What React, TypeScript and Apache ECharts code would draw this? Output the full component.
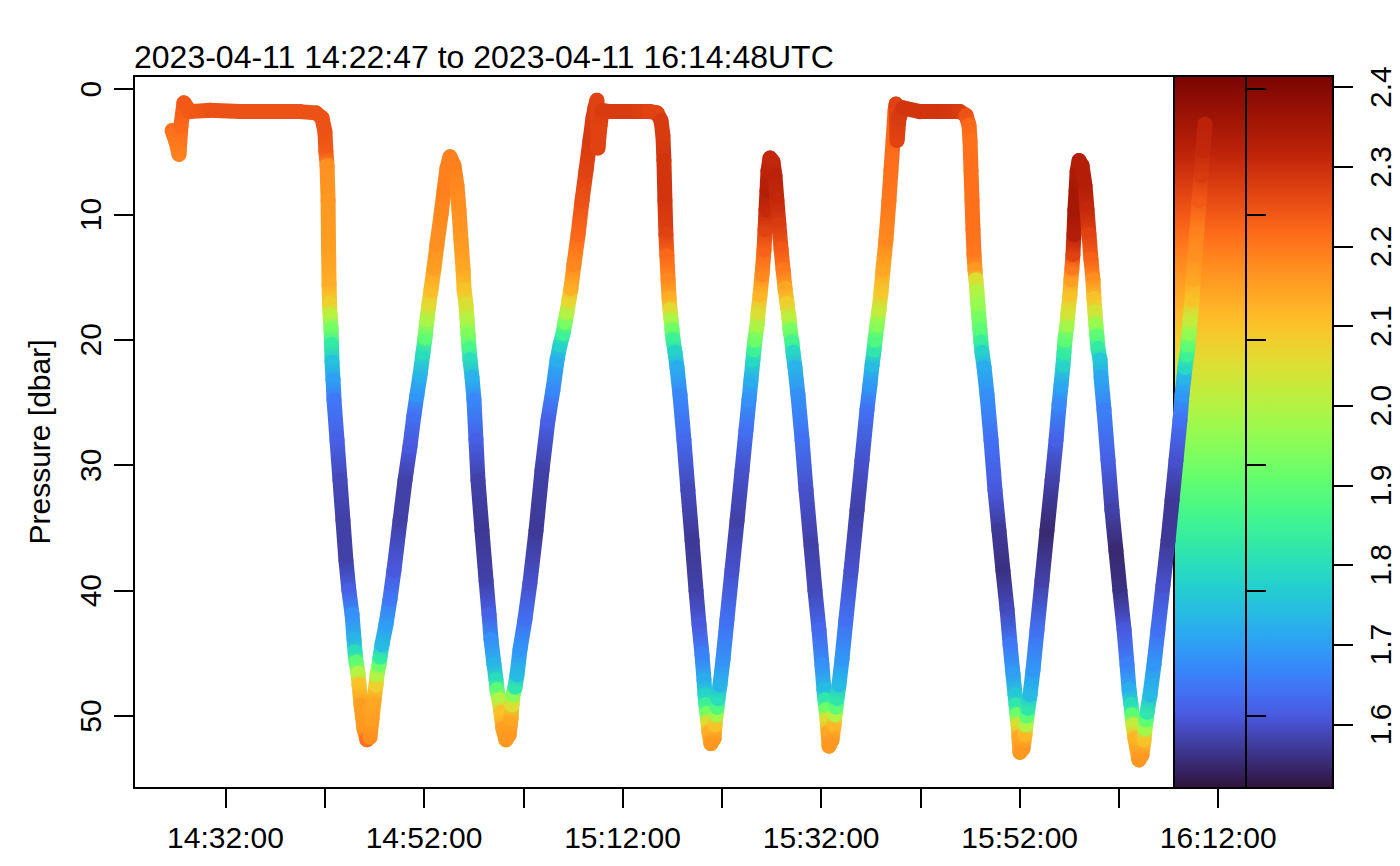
import React, { useEffect, useRef } from "react";
import * as echarts from "echarts";

const TITLE = "2023-04-11 14:22:47 to 2023-04-11 16:14:48UTC";
const START_TIME = "14:22:47";
const END_TIME = "16:14:48";
const Y_AXIS_NAME = "Pressure [dbar]";

// seconds after START_TIME, one line per leg of the profile
const elapsedSec = [
  230, 254, 272, 284, 302, 338, 459, 641, 822, 1003, 1100, 1136, 1154, 1160,
  1167, 1173, 1176, 1179, 1182, 1185, 1191, 1194, 1197, 1203, 1209, 1227, 1245, 1263, 1281, 1299, 1318, 1330, 1336, 1342, 1354, 1360, 1372, 1390, 1408,
  1426, 1438, 1451, 1463, 1469, 1481, 1487, 1499, 1523, 1547, 1571, 1608, 1638, 1668, 1692, 1710, 1729, 1747, 1759, 1771, 1783, 1795, 1813, 1831, 1856, 1874, 1892, 1910,
  1934, 1952, 1964, 1976, 1989, 1995, 2007, 2013, 2019, 2025, 2031, 2043, 2055, 2067, 2079, 2103, 2128, 2146, 2158, 2176, 2188, 2194, 2206, 2218, 2230, 2248,
  2267, 2279, 2285, 2291, 2303, 2315, 2333, 2363, 2393, 2430, 2466, 2502, 2532, 2557, 2575, 2593, 2605, 2617, 2629, 2641, 2659, 2684, 2708, 2732, 2756, 2774, 2786,
  2798, 2804, 2817, 2829, 2877, 2998, 3119, 3161, 3185, 3197,
  3203, 3209, 3215, 3221, 3228, 3234, 3240, 3246, 3252, 3258, 3270, 3282, 3300, 3324, 3348, 3373, 3397, 3415, 3433, 3445, 3451, 3457, 3463, 3469, 3475, 3487,
  3506, 3512, 3518, 3524, 3530, 3542, 3560, 3584, 3614, 3645, 3675, 3699, 3717, 3729, 3741, 3747, 3753, 3766, 3772, 3784, 3796, 3808, 3814, 3820, 3826, 3832, 3844,
  3862, 3874, 3886, 3898, 3911, 3923, 3935, 3947, 3959, 3965, 3977, 3983, 3995, 4013, 4038, 4062, 4092, 4116, 4140, 4158, 4170, 4176, 4183, 4189, 4195, 4201,
  4219, 4231, 4237, 4243, 4249, 4261, 4279, 4303, 4334, 4370, 4400, 4430, 4448, 4461, 4473, 4479, 4491, 4503, 4515, 4527, 4545, 4563, 4575, 4588, 4600,
  4606, 4612, 4624, 4648, 4751, 4872, 4992, 5029, 5047,
  5053, 5059, 5065, 5071, 5077, 5083, 5089, 5095, 5101, 5107, 5113, 5119, 5125, 5138, 5156, 5180, 5204, 5228, 5252, 5277, 5295, 5313, 5325, 5331, 5337, 5343, 5349, 5355,
  5373, 5385, 5391, 5397, 5403, 5416, 5434, 5458, 5488, 5518, 5549, 5573, 5591, 5603, 5615, 5621, 5627, 5639, 5645, 5657, 5663, 5669, 5675, 5681, 5687, 5694, 5700, 5712,
  5730, 5748, 5760, 5772, 5784, 5796, 5802, 5808, 5814, 5820, 5826, 5839, 5845, 5863, 5887, 5911, 5935, 5959, 5984, 6002, 6014, 6026, 6032, 6038, 6050, 6074,
  6092, 6105, 6111, 6117, 6123, 6141, 6165, 6189, 6219, 6250, 6274, 6298, 6322, 6334, 6346, 6352, 6364, 6370, 6377, 6383, 6395, 6401, 6413, 6425, 6437, 6449, 6461, 6473,
];

// pressure [dbar]
const pressure = [
  3.3, 4.2, 5.2, 2.9, 1.1, 1.8, 1.7, 1.8, 1.8, 1.8, 1.9, 2.3, 3.4, 5.0,
  6.1, 8.9, 12.8, 15.6, 17.1, 18.0, 19.1, 20.4, 21.8, 23.2, 24.8, 28.0, 31.2, 34.4, 37.6, 40.0, 41.9, 43.9, 44.9, 45.7, 46.6, 47.5, 49.1, 51.0, 51.9,
  51.7, 50.3, 48.7, 47.5, 46.7, 45.9, 45.3, 44.3, 42.7, 40.7, 38.4, 34.4, 31.2, 28.5, 26.0, 24.4, 22.8, 21.0, 19.8, 18.4, 17.1, 16.0, 14.3, 12.4, 10.0, 8.1, 6.3, 5.4,
  6.1, 7.7, 9.6, 12.0, 14.4, 16.0, 17.2, 18.4, 19.6, 20.7, 21.6, 23.0, 24.8, 28.0, 31.2, 35.2, 39.2, 41.9, 43.9, 45.9, 47.1, 47.9, 48.7, 49.7, 51.0, 51.9,
  51.5, 50.2, 49.1, 48.3, 47.7, 46.7, 44.7, 42.3, 39.4, 35.2, 30.4, 26.4, 24.0, 21.6, 20.4, 19.5, 18.6, 17.8, 16.8, 15.9, 14.0, 11.6, 8.9, 6.5, 4.1, 2.3, 1.5,
  0.9, 4.7, 2.9, 1.7, 1.8, 1.8, 1.8, 1.9, 2.5, 3.7,
  5.7, 8.9, 11.6, 13.3, 15.2, 16.7, 17.6, 18.4, 19.2, 20.0, 21.0, 22.2, 24.4, 28.0, 32.0, 36.0, 40.0, 42.7, 45.1, 47.1, 48.3, 49.1, 49.8, 50.5, 51.3, 52.2,
  51.8, 50.7, 49.9, 49.3, 48.6, 47.5, 45.5, 42.3, 38.4, 34.4, 30.4, 27.2, 24.8, 23.2, 21.6, 20.8, 20.0, 18.8, 17.8, 16.4, 14.8, 12.8, 11.2, 9.6, 8.1, 6.5, 5.5,
  5.8, 6.9, 8.9, 10.8, 12.8, 14.4, 15.9, 17.1, 18.3, 19.2, 20.2, 21.0, 22.2, 24.4, 28.0, 32.0, 36.4, 40.0, 43.1, 45.9, 47.9, 48.7, 49.5, 50.3, 51.3, 52.4,
  51.9, 50.7, 49.9, 49.3, 48.6, 47.5, 45.5, 42.3, 38.4, 33.6, 29.6, 25.6, 23.6, 22.0, 20.8, 20.0, 18.8, 17.6, 16.2, 14.4, 12.0, 8.9, 6.5, 4.1, 1.7,
  1.2, 4.1, 2.3, 1.5, 1.8, 1.8, 1.8, 2.1, 2.9,
  4.1, 6.5, 8.9, 11.2, 13.2, 14.4, 15.2, 16.2, 17.2, 18.3, 19.2, 20.2, 21.0, 22.2, 24.4, 28.0, 32.0, 35.2, 38.4, 41.5, 44.3, 46.7, 48.3, 49.1, 49.9, 50.7, 51.7, 52.9,
  52.6, 51.5, 50.7, 50.0, 49.4, 48.3, 46.3, 43.1, 39.2, 35.2, 31.2, 28.0, 25.2, 23.6, 22.0, 21.0, 20.0, 18.8, 17.8, 16.4, 15.2, 14.3, 13.2, 11.6, 9.6, 8.1, 6.6, 5.7,
  6.1, 7.7, 9.6, 11.6, 13.6, 15.2, 16.7, 17.8, 18.8, 19.7, 20.7, 21.6, 23.0, 25.6, 29.6, 33.6, 36.8, 40.0, 43.1, 45.9, 47.9, 49.1, 49.9, 50.7, 51.8, 53.5,
  53.1, 51.9, 51.0, 50.3, 49.7, 48.3, 45.9, 43.1, 39.6, 36.0, 32.8, 29.6, 26.4, 24.4, 23.0, 22.2, 21.2, 20.4, 19.5, 18.4, 16.8, 15.2, 13.2, 11.2, 8.9, 6.9, 4.9, 2.8,
];

// colour-coded variable
const value = [
  2.21, 2.20, 2.19, 2.22, 2.24, 2.24, 2.25, 2.25, 2.25, 2.25, 2.25, 2.25, 2.25, 2.24,
  2.17, 2.16, 2.15, 2.13, 2.08, 2.01, 1.93, 1.83, 1.75, 1.70, 1.65, 1.62, 1.59, 1.58, 1.58, 1.62, 1.68, 1.73, 1.80, 1.90, 2.00, 2.10, 2.15, 2.16, 2.21,
  2.17, 2.15, 2.14, 2.08, 2.00, 1.92, 1.83, 1.74, 1.70, 1.65, 1.61, 1.58, 1.58, 1.61, 1.64, 1.69, 1.73, 1.80, 1.90, 1.99, 2.06, 2.11, 2.15, 2.17, 2.18, 2.19, 2.19, 2.19,
  2.19, 2.18, 2.17, 2.16, 2.14, 2.10, 2.05, 2.00, 1.94, 1.87, 1.80, 1.73, 1.67, 1.62, 1.58, 1.57, 1.58, 1.62, 1.68, 1.73, 1.80, 1.90, 2.00, 2.10, 2.15, 2.16,
  2.16, 2.14, 2.05, 1.95, 1.82, 1.74, 1.69, 1.64, 1.60, 1.57, 1.58, 1.62, 1.67, 1.72, 1.78, 1.85, 1.93, 2.00, 2.07, 2.13, 2.18, 2.22, 2.25, 2.27, 2.28, 2.28, 2.28,
  2.27, 2.27, 2.27, 2.28, 2.28, 2.28, 2.27, 2.27, 2.28, 2.28,
  2.29, 2.29, 2.27, 2.22, 2.18, 2.13, 2.06, 1.99, 1.92, 1.85, 1.78, 1.72, 1.67, 1.63, 1.59, 1.57, 1.58, 1.61, 1.66, 1.72, 1.78, 1.85, 1.93, 2.05, 2.13, 2.16,
  2.16, 2.10, 1.98, 1.88, 1.80, 1.73, 1.68, 1.64, 1.60, 1.58, 1.60, 1.64, 1.68, 1.72, 1.79, 1.85, 1.92, 1.99, 2.05, 2.12, 2.18, 2.23, 2.27, 2.31, 2.33, 2.32, 2.31,
  2.31, 2.32, 2.31, 2.28, 2.24, 2.20, 2.14, 2.08, 2.01, 1.93, 1.86, 1.79, 1.73, 1.68, 1.64, 1.60, 1.58, 1.59, 1.63, 1.68, 1.74, 1.82, 1.92, 2.05, 2.14, 2.16,
  2.16, 2.12, 2.00, 1.90, 1.82, 1.74, 1.69, 1.64, 1.60, 1.58, 1.60, 1.64, 1.69, 1.74, 1.82, 1.88, 1.95, 2.02, 2.09, 2.14, 2.18, 2.20, 2.21, 2.22, 2.23,
  2.27, 2.27, 2.28, 2.29, 2.29, 2.29, 2.28, 2.25, 2.22,
  2.21, 2.21, 2.21, 2.21, 2.20, 2.16, 2.05, 2.00, 1.97, 1.93, 1.90, 1.84, 1.78, 1.72, 1.68, 1.64, 1.61, 1.57, 1.56, 1.59, 1.65, 1.70, 1.76, 1.82, 1.92, 2.05, 2.14, 2.16,
  2.16, 2.12, 2.00, 1.90, 1.82, 1.74, 1.69, 1.64, 1.58, 1.55, 1.58, 1.62, 1.67, 1.71, 1.78, 1.83, 1.90, 1.98, 2.04, 2.10, 2.15, 2.20, 2.27, 2.33, 2.35, 2.35, 2.34, 2.33,
  2.33, 2.33, 2.31, 2.27, 2.23, 2.17, 2.10, 2.04, 1.97, 1.90, 1.83, 1.76, 1.71, 1.66, 1.62, 1.58, 1.55, 1.56, 1.61, 1.66, 1.72, 1.80, 1.90, 2.02, 2.12, 2.16,
  2.16, 2.10, 1.98, 1.90, 1.82, 1.74, 1.69, 1.64, 1.60, 1.57, 1.57, 1.60, 1.64, 1.69, 1.73, 1.79, 1.85, 1.90, 1.96, 2.02, 2.10, 2.14, 2.17, 2.19, 2.24, 2.28, 2.31, 2.32,
];

const timeTicks = ["14:32:00", "14:42:00", "14:52:00", "15:02:00", "15:12:00", "15:22:00", "15:32:00", "15:42:00", "15:52:00", "16:02:00", "16:12:00"];
const timeLabels = ["14:32:00", "14:52:00", "15:12:00", "15:32:00", "15:52:00", "16:12:00"];
const pressureTicks = [0, 10, 20, 30, 40, 50];
const pressureRange = [-1.04, 55.74];
const colorTicks = [1.6, 1.7, 1.8, 1.9, 2.0, 2.1, 2.2, 2.3, 2.4];
const colorRange = [1.52, 2.414];

const FONT = '"Liberation Sans", Arial, Helvetica, sans-serif';

const toSec = (s: string) => {
  const [h, m, x] = s.split(":").map(Number);
  return h * 3600 + m * 60 + x;
};
const pad = (n: number) => String(n).padStart(2, "0");
const fmtClock = (sec: number) => {
  const s = Math.round(sec);
  return `${pad(Math.floor(s / 3600))}:${pad(Math.floor((s % 3600) / 60))}:${pad(s % 60)}`;
};

// turbo colour scale
function turboPoly(t: number): number[] {
  const r = 0.13572138 + t * (4.6153926 + t * (-42.66032258 + t * (132.13108234 + t * (-152.94239396 + t * 59.28637943))));
  const g = 0.09140261 + t * (2.19418839 + t * (4.84296658 + t * (-14.18503333 + t * (4.27729857 + t * 2.82956604))));
  const b = 0.1066733 + t * (12.64194608 + t * (-60.58204836 + t * (110.36276771 + t * (-89.90310912 + t * 27.34824973))));
  return [r, g, b];
}
const TURBO_LO = [48 / 255, 18 / 255, 59 / 255];
const TURBO_HI = [122 / 255, 4 / 255, 3 / 255];
function turbo(t: number): string {
  t = Math.max(0, Math.min(1, t));
  let c: number[];
  if (t < 0.1) {
    const p = turboPoly(0.1);
    const k = t / 0.1;
    c = TURBO_LO.map((v, i) => v + (p[i] - v) * k);
  } else if (t > 0.9) {
    const p = turboPoly(0.9);
    const k = (t - 0.9) / 0.1;
    c = p.map((v, i) => v + (TURBO_HI[i] - v) * k);
  } else {
    c = turboPoly(t);
  }
  const f = (x: number) => Math.round(255 * Math.max(0, Math.min(1, x)));
  return `rgb(${f(c[0])},${f(c[1])},${f(c[2])})`;
}

export default function App() {
  const ref = useRef<HTMLDivElement>(null);

  useEffect(() => {
    if (!ref.current) return;
    const chart = echarts.init(ref.current, undefined, { renderer: "svg" });
    const t0 = toSec(START_TIME);
    const t1 = toSec(END_TIME);
    const track = elapsedSec.map((s, i) => [t0 + s, pressure[i], value[i]]);
    const colorOf = (v: number) => turbo((v - colorRange[0]) / (colorRange[1] - colorRange[0]));

    const axisLine = { show: true, onZero: false, lineStyle: { color: "#000", width: 2 } };
    const tickStyle = { color: "#000", width: 2 };
    const labelBase = { color: "#000", fontSize: 30, fontFamily: FONT };

    const option: any = {
      animation: false,
      backgroundColor: "#ffffff",
      textStyle: { fontFamily: FONT },
      grid: [
        { left: 134, top: 76, width: 1112, height: 712, show: false, containLabel: false, outerBoundsMode: "none" },
        { left: 1174, top: 76, width: 159, height: 712, show: false, containLabel: false, outerBoundsMode: "none" },
      ],
      xAxis: [
        {
          gridIndex: 0, type: "value", position: "bottom", min: t0, max: t1, z: 10,
          axisLine,
          axisTick: { show: true, length: 20, inside: false, customValues: timeTicks.map(toSec), lineStyle: tickStyle },
          axisLabel: { ...labelBase, customValues: timeLabels.map(toSec), formatter: (v: number) => fmtClock(v), margin: 34 },
          splitLine: { show: false },
        },
        {
          gridIndex: 0, type: "value", position: "top", min: t0, max: t1, z: 10,
          axisLine, axisTick: { show: false }, axisLabel: { show: false }, splitLine: { show: false },
        },
        { gridIndex: 1, type: "value", min: 0, max: 1, show: false },
      ],
      yAxis: [
        {
          gridIndex: 0, type: "value", position: "left", inverse: true, min: pressureRange[0], max: pressureRange[1], z: 10,
          axisLine,
          axisTick: { show: true, length: 20, inside: false, customValues: pressureTicks, lineStyle: tickStyle },
          axisLabel: { ...labelBase, customValues: pressureTicks, rotate: 90, margin: 29 },
          splitLine: { show: false },
        },
        {
          gridIndex: 0, type: "value", position: "right", inverse: true, min: pressureRange[0], max: pressureRange[1], z: 10,
          axisLine,
          axisTick: { show: true, length: 20, inside: false, customValues: pressureTicks, lineStyle: tickStyle },
          axisLabel: { show: false },
          splitLine: { show: false },
        },
        {
          gridIndex: 1, type: "value", position: "right", min: colorRange[0], max: colorRange[1], z: 10,
          axisLine,
          axisTick: { show: true, length: 20, inside: false, customValues: colorTicks, lineStyle: tickStyle },
          axisLabel: { ...labelBase, customValues: colorTicks, rotate: 90, margin: 32, formatter: (v: number) => v.toFixed(1) },
          splitLine: { show: false },
        },
      ],
      series: [
        {
          type: "custom",
          name: "palette",
          xAxisIndex: 2,
          yAxisIndex: 2,
          z: 1,
          silent: true,
          clip: false,
          data: [[0, colorRange[0], 1, colorRange[1]]],
          encode: { x: [0, 2], y: [1, 3] },
          renderItem: (_params: any, api: any) => {
            const p0 = api.coord([0, colorRange[0]]);
            const p1 = api.coord([1, colorRange[1]]);
            const x = Math.min(p0[0], p1[0]);
            const y = Math.min(p0[1], p1[1]);
            const w = Math.abs(p1[0] - p0[0]);
            const h = Math.abs(p1[1] - p0[1]);
            const stops: any[] = [];
            const n = 60;
            for (let k = 0; k <= n; k++) stops.push({ offset: k / n, color: turbo(k / n) });
            return {
              type: "group",
              children: [
                { type: "rect", shape: { x, y, width: w, height: h }, style: { fill: new echarts.graphic.LinearGradient(0, 1, 0, 0, stops) } },
                { type: "rect", shape: { x, y, width: w, height: h }, style: { fill: "none", stroke: "#000", lineWidth: 2 } },
              ],
            };
          },
        },
        {
          type: "custom",
          name: "track",
          xAxisIndex: 0,
          yAxisIndex: 0,
          z: 3,
          silent: true,
          data: track,
          encode: { x: 0, y: 1 },
          renderItem: (params: any, api: any) => {
            const i = params.dataIndex;
            const j = i > 0 ? i - 1 : 0;
            const cur = api.coord([track[i][0], track[i][1]]);
            const prev = api.coord([track[j][0], track[j][1]]);
            const c0 = colorOf(track[j][2]);
            const c1 = colorOf(track[i][2]);
            const same = Math.abs(prev[0] - cur[0]) < 0.01 && Math.abs(prev[1] - cur[1]) < 0.01;
            const stroke = same
              ? c1
              : new echarts.graphic.LinearGradient(prev[0], prev[1], cur[0], cur[1], [
                  { offset: 0, color: c0 },
                  { offset: 1, color: c1 },
                ], true);
            return {
              type: "line",
              shape: { x1: prev[0], y1: prev[1], x2: cur[0], y2: cur[1] },
              style: { stroke, lineWidth: 15, lineCap: "round", fill: "none" },
            };
          },
        },
      ],
      graphic: [
        {
          type: "text",
          x: 134,
          y: 41,
          z: 20,
          style: { text: TITLE, fontSize: 32, fontFamily: FONT, fill: "#000", align: "left", verticalAlign: "top", textAlign: "left", textVerticalAlign: "top" },
        },
        {
          type: "text",
          x: 39,
          y: 442,
          rotation: Math.PI / 2,
          z: 20,
          style: { text: Y_AXIS_NAME, fontSize: 30, fontFamily: FONT, fill: "#000", align: "center", verticalAlign: "middle", textAlign: "center", textVerticalAlign: "middle" },
        },
      ],
    };

    chart.setOption(option);
    return () => chart.dispose();
  }, []);

  return <div ref={ref} style={{ position: "fixed", left: 0, top: 0, width: 1400, height: 866, background: "#fff" }} />;
}
